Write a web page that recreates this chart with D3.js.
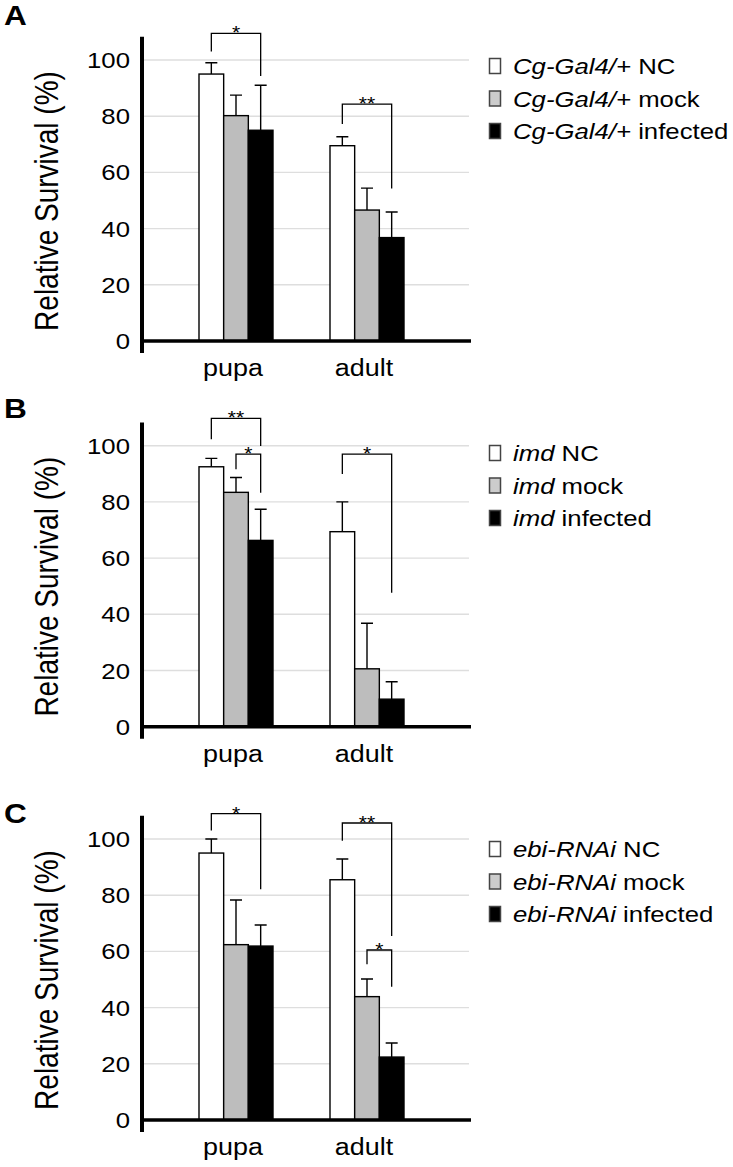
<!DOCTYPE html>
<meta charset="utf-8">
<script src="https://d3js.org/d3.v7.min.js"></script>
<style>
body { margin: 0; background: #fff; }
svg { display: block; }
text { font-family: "Liberation Sans", Arial, sans-serif; fill: #000; }
.grid line { stroke: #dedede; stroke-width: 1.4px; }
.bar { stroke: #000; stroke-width: 1.4px; }
.err { stroke: #000; stroke-width: 1.4px; fill: none; }
.bracket { stroke: #000; stroke-width: 1.3px; fill: none; }
.axis-line { stroke: #000; }
.legend-box { stroke: #444; stroke-width: 1.5px; }
</style>
<body>
<script>

// ---- data ----
var categories = ["pupa", "adult"];
var seriesKeys = ["NC", "mock", "infected"];
var genotypes = ["Cg-Gal4/+", "imd", "ebi-RNAi"];
var panelLetters = ["A", "B", "C"];
var yTicks = [0, 20, 40, 60, 80, 100];

// mean survival, [pupa, adult] x [NC, mock, infected]
var survivalA = [[95, 80.2, 75], [69.5, 46.6, 36.8]];
var survivalB = [[92.5, 83.4, 66.3], [69.4, 20.6, 9.8]];
var survivalC = [[95, 62.4, 61.9], [85.5, 43.9, 22.4]];

// upper error (sd) for each bar
var errorA = [[4, 7.3, 16], [3.2, 7.8, 9.1]];
var errorB = [[3, 5.3, 11.1], [10.6, 16.2, 6.2]];
var errorC = [[5, 15.9, 7.5], [7.4, 6.3, 5]];

// significance brackets: category, from/to series, top, leg ends (in %), label
var bracketsA = [
  {cat: "pupa", from: 0, to: 2, top: 109.5, left: 103, right: 94.3, label: "*"},
  {cat: "adult", from: 0, to: 2, top: 84.3, left: 77.2, right: 54.3, label: "**"}
];
var bracketsB = [
  {cat: "pupa", from: 0, to: 2, top: 109.7, left: 102.3, right: 99.9, label: "**"},
  {cat: "pupa", from: 1, to: 2, top: 97, left: 91.6, right: 83.3, label: "*"},
  {cat: "adult", from: 0, to: 2, top: 97, left: 89.9, right: 47.7, label: "*"}
];
var bracketsC = [
  {cat: "pupa", from: 0, to: 2, top: 109, left: 103, right: 82.1, label: "*"},
  {cat: "adult", from: 0, to: 2, top: 105.7, left: 99.4, right: 65.5, label: "**"},
  {cat: "adult", from: 1, to: 2, top: 60.5, left: 55.4, right: 47.4, label: "*"}
];

var survival = [survivalA, survivalB, survivalC];
var errors = [errorA, errorB, errorC];
var brackets = [bracketsA, bracketsB, bracketsC];

// ---- layout ----
var width = 733, height = 1167;
var SX = 1.17;                       // figure is stretched horizontally
var fills = ["#ffffff", "#bdbdbd", "#000000"];
var boxFills = ["#ffffff", "#cccccc", "#000000"];
var axisX = 142, plotRight = 469;
var baselines = [341, 726.7, 1120];
var letterY = [25, 418, 823];
var legendY = [66, 453, 849];

var svg = d3.select("body").append("svg")
    .attr("width", width)
    .attr("height", height);

var x = d3.scaleBand().domain(categories).range([170.5, 432.5]);
var xs = d3.scaleBand().domain(d3.range(seriesKeys.length)).range([-37, 37]);

function stretch(x0, y0) {
  return "translate(" + x0 + "," + y0 + ") scale(" + SX + ",1)";
}

panelLetters.forEach(function(letter, p) {
  var base = baselines[p];
  var y = d3.scaleLinear().domain([0, 100]).range([base, base - 281]);
  var g = svg.append("g");

  // grid
  g.append("g").attr("class", "grid")
    .selectAll("line")
    .data(yTicks.filter(function(t) { return t > 0; }))
    .enter().append("line")
      .attr("x1", axisX).attr("x2", plotRight)
      .attr("y1", function(d) { return y(d); })
      .attr("y2", function(d) { return y(d); });

  // tick labels
  g.selectAll(".tick-label")
    .data(yTicks)
    .enter().append("text")
      .attr("class", "tick-label")
      .attr("transform", function(d) { return stretch(130, y(d) + 8); })
      .attr("text-anchor", "end")
      .style("font-size", "22px")
      .text(function(d) { return d; });

  // bars
  var rows = [];
  categories.forEach(function(c, ci) {
    seriesKeys.forEach(function(k, si) {
      rows.push({cat: c, s: si, v: survival[p][ci][si], e: errors[p][ci][si]});
    });
  });
  function cx(d) { return x(d.cat) + x.bandwidth() / 2 + xs(d.s) + xs.bandwidth() / 2; }

  g.selectAll(".err")
    .data(rows)
    .enter().append("path")
      .attr("class", "err")
      .attr("d", function(d) {
        var c = cx(d), t = y(d.v + d.e);
        return "M" + c + "," + y(d.v) + "V" + t + "M" + (c - 6) + "," + t + "H" + (c + 6);
      });

  g.selectAll(".bar")
    .data(rows)
    .enter().append("rect")
      .attr("class", "bar")
      .attr("x", function(d) { return x(d.cat) + x.bandwidth() / 2 + xs(d.s); })
      .attr("width", xs.bandwidth())
      .attr("y", function(d) { return y(d.v); })
      .attr("height", function(d) { return base - y(d.v); })
      .attr("fill", function(d) { return fills[d.s]; });

  // brackets
  var br = g.selectAll(".br").data(brackets[p]).enter().append("g");
  function bx(d, s) { return x(d.cat) + x.bandwidth() / 2 + xs(s) + xs.bandwidth() / 2; }
  br.append("path")
    .attr("class", "bracket")
    .attr("d", function(d) {
      return "M" + bx(d, d.from) + "," + y(d.left) + "V" + y(d.top) +
             "H" + bx(d, d.to) + "V" + y(d.right);
    });
  br.append("text")
    .attr("transform", function(d) {
      return stretch((bx(d, d.from) + bx(d, d.to)) / 2, y(d.top) + 6);
    })
    .attr("text-anchor", "middle")
    .style("font-size", "18px")
    .text(function(d) { return d.label; });

  // axes
  g.append("line").attr("class", "axis-line")
    .attr("x1", axisX).attr("x2", axisX)
    .attr("y1", y(108.3)).attr("y2", base + 12)
    .style("stroke-width", "4px");
  g.append("line").attr("class", "axis-line")
    .attr("x1", axisX - 2).attr("x2", plotRight + 2)
    .attr("y1", base).attr("y2", base)
    .style("stroke-width", "3.5px");

  // category labels
  g.selectAll(".cat")
    .data(categories)
    .enter().append("text")
      .attr("transform", function(d) { return stretch(x(d) + x.bandwidth() / 2 - 3, base + 35); })
      .attr("text-anchor", "middle")
      .style("font-size", "23px")
      .text(function(d) { return d; });

  // y title
  g.append("text")
    .attr("transform", "translate(58," + (base - 140) + ") scale(" + SX + ",1) rotate(-90)")
    .attr("text-anchor", "middle")
    .style("font-size", "28px")
    .text("Relative Survival (%)");

  // panel letter
  g.append("text")
    .attr("transform", stretch(4, letterY[p]))
    .style("font-size", "27px")
    .style("font-weight", "bold")
    .text(letter);

  // legend
  var leg = g.selectAll(".leg")
    .data(seriesKeys)
    .enter().append("g")
      .attr("transform", function(d, i) { return "translate(0," + (legendY[p] + i * 32.5) + ")"; });
  leg.append("rect")
    .attr("class", "legend-box")
    .attr("x", 489.5).attr("y", -7.5)
    .attr("width", 11).attr("height", 15)
    .attr("fill", function(d, i) { return boxFills[i]; });
  var lt = leg.append("text")
    .attr("transform", stretch(513, 8))
    .style("font-size", "22px");
  lt.append("tspan").style("font-style", "italic").text(genotypes[p]);
  lt.append("tspan").text(function(d) { return " " + d; });
});

</script>
</body>
